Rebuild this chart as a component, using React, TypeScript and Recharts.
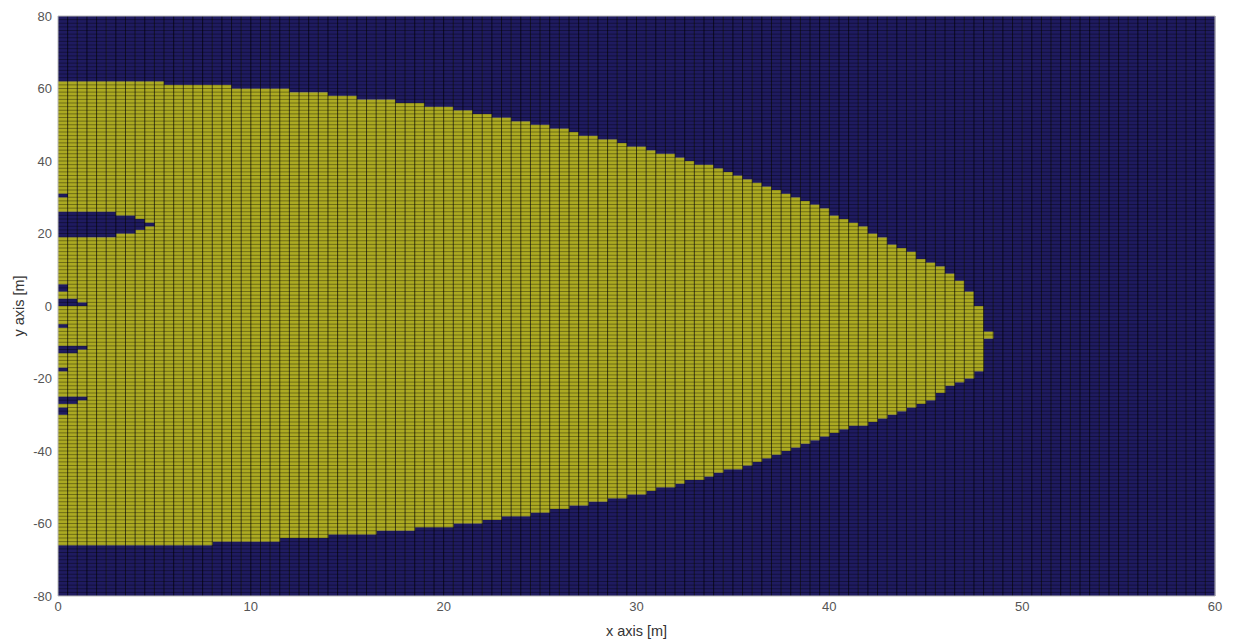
import React from "react";
import { BarChart, Bar, XAxis, YAxis, ReferenceLine, Label } from "recharts";

document.body.style.margin = "0";

const NAVY = "#1f1b60";
const YELLOW = "#acaa22";
const FONT = "'Liberation Sans', Arial, Helvetica, sans-serif";

// y values are shifted by +80 so the stack starts at the bottom of the axis
const Y_MIN = -80;
const Y_MAX = 80;
const CELL_W = 0.5; // column width [m]
const COLS = 120;

const xTicks = [0, 10, 20, 30, 40, 50, 60];
const yTicks = [-80, -60, -40, -20, 0, 20, 40, 60, 80];

// upper edge of the yellow area, one value per 0.5 m column starting at x = 0
const topEdge = [
  62, 62, 62, 62, 62, 62, 62, 62, 62, 62, 62, 61, 61, 61, 61, 61, 61, 61, 60, 60,
  60, 60, 60, 60, 59, 59, 59, 59, 58, 58, 58, 57, 57, 57, 57, 56, 56, 56, 55, 55,
  55, 54, 54, 53, 53, 52, 52, 51, 51, 50, 50, 49, 49, 48, 47, 47, 46, 46, 45, 44,
  44, 43, 42, 42, 41, 40, 39, 39, 38, 37, 36, 35, 34, 33, 32, 31, 30, 29, 28, 27,
  25, 24, 23, 22, 20, 19, 17, 16, 15, 13, 12, 11, 9, 7, 4, 0, -7,
];

// lower edge of the yellow area, same columns
const bottomEdge = [
  -66, -66, -66, -66, -66, -66, -66, -66, -66, -66, -66, -66, -66, -66, -66, -66, -65, -65, -65, -65,
  -65, -65, -65, -64, -64, -64, -64, -64, -63, -63, -63, -63, -63, -62, -62, -62, -62, -61, -61, -61,
  -61, -60, -60, -60, -59, -59, -58, -58, -58, -57, -57, -56, -56, -55, -55, -54, -54, -53, -53, -52,
  -52, -51, -50, -50, -49, -48, -48, -47, -46, -45, -45, -44, -43, -42, -41, -40, -39, -38, -37, -36,
  -35, -34, -33, -33, -32, -31, -30, -29, -28, -27, -26, -24, -22, -21, -20, -18, -9,
];

// dark holes inside the yellow area near x = 0: [x0, x1, y0, y1]
const holes = [
  [0, 0.5, 30, 31],
  [0, 3, 25, 26],
  [0, 4, 24, 25],
  [0, 4.5, 23, 24],
  [0, 5, 22, 23],
  [0, 4.5, 21, 22],
  [0, 4, 20, 21],
  [0, 3, 19, 20],
  [0, 0.5, 4, 6],
  [0, 1, 0, 2],
  [1, 1.5, 0, 1],
  [0, 0.5, -6, -5],
  [0, 1, -13, -11],
  [1, 1.5, -12, -11],
  [0, 0.5, -18, -17],
  [0, 1, -27, -25],
  [1, 1.5, -26, -25],
  [0, 0.5, -30, -28],
];

function yellowParts(i: number): number[][] {
  if (i >= topEdge.length) return [];
  const xc = i * CELL_W + CELL_W / 2;
  let parts = [[bottomEdge[i], topEdge[i]]];
  holes
    .filter((h) => xc > h[0] && xc < h[1])
    .forEach((h) => {
      const next: number[][] = [];
      parts.forEach(([a, b]) => {
        if (h[3] <= a || h[2] >= b) {
          next.push([a, b]);
        } else {
          if (h[2] > a) next.push([a, h[2]]);
          if (h[3] < b) next.push([h[3], b]);
        }
      });
      parts = next;
    });
  return parts.sort((p, q) => p[0] - q[0]);
}

// segment lengths per column: even = dark, odd = yellow
const columns = Array.from({ length: COLS }, (_, i) => {
  const segs: number[] = [];
  let cur = Y_MIN;
  yellowParts(i).forEach(([a, b]) => {
    segs.push(a - cur, b - a);
    cur = b;
  });
  segs.push(Y_MAX - cur);
  return { x: i * CELL_W + CELL_W / 2, segs };
});

const SEG_COUNT = Math.max(...columns.map((c) => c.segs.length));

const data = columns.map((c) => {
  const row: Record<string, number> = { x: c.x };
  for (let k = 0; k < SEG_COUNT; k++) row[`s${k}`] = c.segs[k] ?? 0;
  return row;
});

const xGrid = Array.from({ length: COLS - 1 }, (_, i) => (i + 1) * CELL_W);
const yGrid = Array.from({ length: Y_MAX - Y_MIN - 1 }, (_, i) => i + 1);

export default function App() {
  return (
    <BarChart
      width={1236}
      height={641}
      data={data}
      margin={{ top: 16, right: 21, left: 0, bottom: 0 }}
      barCategoryGap={0}
      barGap={0}
    >
      <XAxis
        type="number"
        dataKey="x"
        domain={[0, 60]}
        ticks={xTicks}
        tickSize={0}
        tickMargin={6}
        height={45}
        stroke="#b8b8b8"
        tick={{ fill: "#555", fontSize: 13, fontFamily: FONT }}
      >
        <Label
          value="x axis [m]"
          position="insideBottom"
          offset={5}
          style={{ fill: "#333", fontSize: 14.5, fontFamily: FONT }}
        />
      </XAxis>
      <YAxis
        type="number"
        domain={[0, Y_MAX - Y_MIN]}
        ticks={yTicks.map((t) => t - Y_MIN)}
        tickFormatter={(v: number) => String(v + Y_MIN)}
        tickSize={0}
        tickMargin={6}
        width={58}
        stroke="#b8b8b8"
        tick={{ fill: "#555", fontSize: 13, fontFamily: FONT }}
      >
        <Label
          value="y axis [m]"
          angle={-90}
          position="insideLeft"
          offset={19}
          style={{ textAnchor: "middle", fill: "#333", fontSize: 14.5, fontFamily: FONT }}
        />
      </YAxis>
      {Array.from({ length: SEG_COUNT }, (_, k) => (
        <Bar
          key={k}
          dataKey={`s${k}`}
          stackId="cells"
          fill={k % 2 ? YELLOW : NAVY}
          isAnimationActive={false}
        />
      ))}
      {yGrid.map((v) => (
        <ReferenceLine key={`h${v}`} y={v} stroke="#000" strokeOpacity={0.45} strokeWidth={0.8} />
      ))}
      {xGrid.map((v) => (
        <ReferenceLine key={`v${v}`} x={v} stroke="#000" strokeOpacity={0.65} strokeWidth={1} />
      ))}
      <ReferenceLine y={Y_MAX - Y_MIN} stroke="#b8b8b8" />
      <ReferenceLine x={60} stroke="#b8b8b8" />
    </BarChart>
  );
}
